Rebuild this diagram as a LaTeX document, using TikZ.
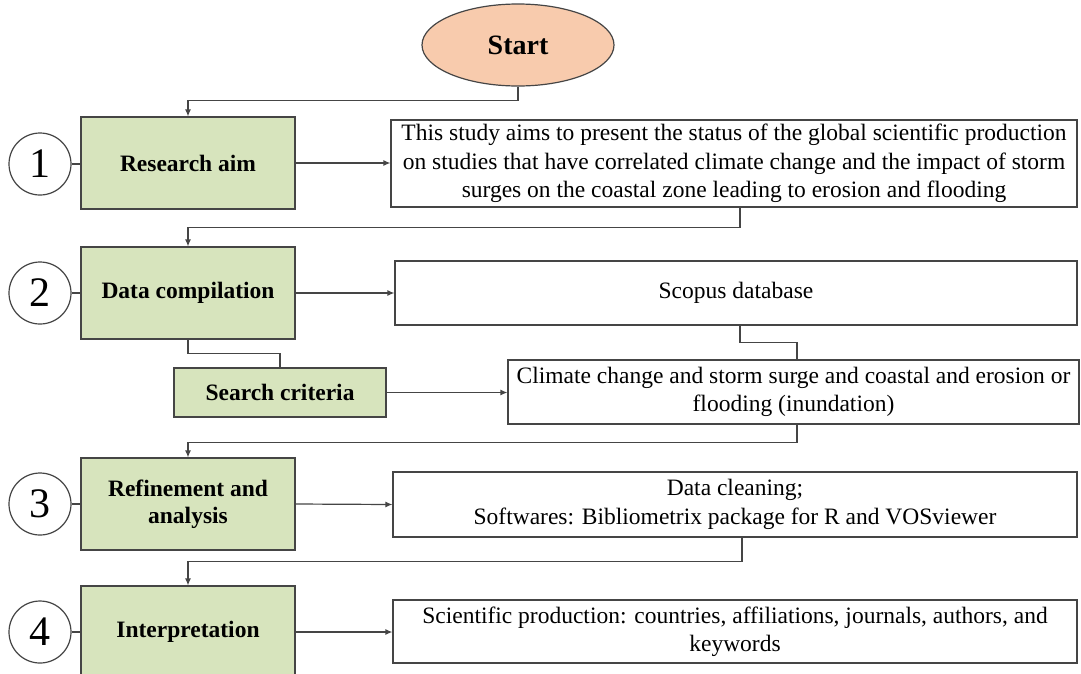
\documentclass[tikz,border=0pt]{standalone}
\usepackage{fontspec}
\setmainfont{Liberation Serif}
\usetikzlibrary{arrows.meta,shapes.geometric}
\definecolor{greenfill}{HTML}{D7E4BD}
\definecolor{peach}{HTML}{F8CBAD}
\definecolor{edge}{HTML}{454545}
\begin{document}
\begin{tikzpicture}[x=1pt,y=-1pt,
  stepbox/.style={draw=edge, line width=1.2pt, fill=greenfill, minimum width=214pt, minimum height=92pt, font=\bfseries\fontsize{23.5}{27}\selectfont, align=center, inner sep=0pt},
  infobox/.style={draw=edge, fill=white, line width=1.2pt, align=center, font=\fontsize{23.5}{28.5}\selectfont, inner sep=0pt},
  numcircle/.style={circle, draw=edge, line width=1.2pt, minimum size=62pt, inner sep=0pt, font=\fontsize{42}{42}\selectfont},
  conn/.style={draw=edge, line width=1.2pt},
  arr/.style={conn, -{Latex[length=7pt,width=6pt]}}]
\clip (0,0) rectangle (1081,673);
\fill[white] (0,0) rectangle (1081,673);

\node[ellipse, draw=edge, fill=peach, line width=1.2pt, minimum width=192pt, minimum height=82pt, inner sep=0pt, font=\bfseries\fontsize{28}{28}\selectfont] (start) at (518,45) {Start};

\node[stepbox] (aim) at (188,163) {Research aim};
\node[numcircle] (n1) at (40,164) {1};
\node[infobox, minimum width=686pt, minimum height=87pt] (b1) at (734,163.5) {This study aims to present the status of the global scientific production\\on studies that have correlated climate change and the impact of storm\\surges on the coastal zone leading to erosion and flooding};

\node[stepbox] (dc) at (188,293) {Data compilation};
\node[numcircle] (n2) at (40,293) {2};
\node[infobox, minimum width=682pt, minimum height=64pt] (b2) at (736,293) {Scopus database};

\node[stepbox, minimum width=212pt, minimum height=49pt] (sc) at (280,392.5) {Search criteria};
\node[infobox, minimum width=571pt, minimum height=64pt] (b3) at (793.5,392) {Climate change and storm surge and coastal and erosion or\\flooding (inundation)};

\node[stepbox] (ra) at (188,504) {Refinement and\\analysis};
\node[numcircle] (n3) at (40,504) {3};
\node[infobox, minimum width=684pt, minimum height=65pt] (b4) at (735,504.5) {Data cleaning;\\Softwares: Bibliometrix package for R and VOSviewer};

\node[stepbox] (ip) at (188,632) {Interpretation};
\node[numcircle] (n4) at (40,632) {4};
\node[infobox, minimum width=684pt, minimum height=63pt] (b5) at (735,631.5) {Scientific production: countries, affiliations, journals, authors, and\\keywords};

\draw[conn] (n1.east) -- (n1.east -| aim.west);
\draw[conn] (n2.east) -- (n2.east -| dc.west);
\draw[conn] (n3.east) -- (n3.east -| ra.west);
\draw[conn] (n4.east) -- (n4.east -| ip.west);

\draw[arr] (start.south) -- ++(0,14) -| (aim.north);
\draw[arr] (aim.east) -- (aim.east -| b1.west);
\draw[arr] ([xshift=6pt]b1.south) -- ++(0,20) -| (dc.north);
\draw[arr] (dc.east) -- (b2.west);
\draw[conn] (dc.south) -- ++(0,14) -| (sc.north);
\draw[arr] (sc.east) -- (sc.east -| b3.west);
\draw[conn] ([xshift=4pt]b2.south) -- ++(0,17) -| ([xshift=3.5pt]b3.north);
\draw[arr] ([xshift=3.5pt]b3.south) -- ++(0,18) -| (ra.north);
\draw[arr] (ra.east) -- (b4.west);
\draw[arr] ([xshift=7pt]b4.south) -- ++(0,24) -| (ip.north);
\draw[arr] (ip.east) -- (ip.east -| b5.west);
\end{tikzpicture}
\end{document}
